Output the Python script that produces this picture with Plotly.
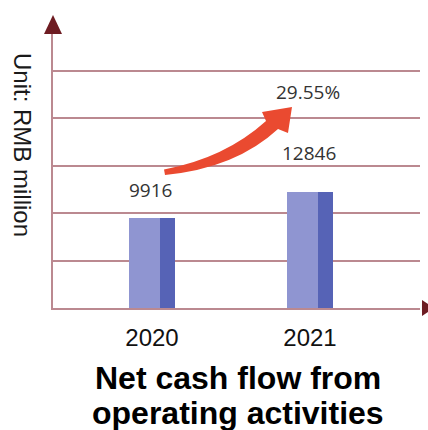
import plotly.graph_objects as go

# ---- data ----
years = ["2020", "2021"]
values = [9916, 12846]
y_title = "Unit: RMB million"
chart_title = ["Net cash flow from", "operating activities"]
growth = values[1] / values[0] - 1
growth_label = f"{growth*100:.2f}%"

# ---- geometry (pixels) ----
W, H = 428, 430
L, R, T, B = 53, 8, 33, 122
PW, PH = W - L - R, H - T - B
cat_px = 158.0            # pixels between categories
first_px = 152.0          # pixel of first category centre
x0 = -(first_px - L) / cat_px
x1 = x0 + PW / cat_px
dtick = 5250
grid_px = 47.4
ytop = PH / grid_px * dtick


def px2paper(px, py):
    return (px - L) / PW, (H - B - py) / PH


front_color = "#8f95d1"
side_color = "#5663b6"
grid_color = "#bb8990"
axis_dark = "#6e1c22"

fig = go.Figure()
fig.add_trace(go.Bar(x=years, y=values, width=0.196, offset=-0.1456,
                     marker=dict(color=front_color, line=dict(width=0)),
                     hoverinfo="x+y", showlegend=False))
fig.add_trace(go.Bar(x=years, y=values, width=0.095, offset=0.0506,
                     marker=dict(color=side_color, line=dict(width=0)),
                     hoverinfo="skip", showlegend=False))

annotations = []
label_font = dict(family="Open Sans", size=19, color="#333333")
# value labels (category index positions)
for i, (v, ys) in enumerate(zip(values, [28.5, 39])):
    annotations.append(dict(x=i, y=v, xref="x", yref="y", text=str(v),
                            showarrow=False, yshift=ys, xshift=-1.5,
                            xanchor="center", yanchor="middle", font=label_font))
annotations.append(dict(x=1, y=values[1], xref="x", yref="y", text=growth_label,
                        showarrow=False, yshift=100, xshift=-2,
                        xanchor="center", yanchor="middle", font=label_font))
# y title
ax_, ay_ = px2paper(23, 145)
annotations.append(dict(x=ax_, y=ay_, xref="paper", yref="paper", text=y_title,
                        textangle=90, showarrow=False, xanchor="center", yanchor="middle",
                        font=dict(family="Liberation Sans", size=24, color="#1a1a1a")))
# chart title lines
for line, py in zip(chart_title, [378, 413]):
    tx, ty = px2paper(238, py)
    annotations.append(dict(x=tx, y=ty, xref="paper", yref="paper", text=f"<b>{line}</b>",
                            showarrow=False, xanchor="center", yanchor="middle",
                            font=dict(family="Liberation Sans", size=32, color="#000000")))


def path(cmds):
    s = []
    for cmd, pts in cmds:
        coords = " ".join(f"{px2paper(*p)[0]:.4f},{px2paper(*p)[1]:.4f}" for p in pts)
        s.append(f"{cmd}{coords}")
    return " ".join(s) + " Z"


shapes = []
# y-axis arrowhead
shapes.append(dict(type="path", xref="paper", yref="paper",
                   path=path([("M", [(44, 34)]), ("L", [(53, 15)]), ("L", [(62, 34)])]),
                   fillcolor=axis_dark, line=dict(width=0)))
# x-axis arrowhead
shapes.append(dict(type="path", xref="paper", yref="paper",
                   path=path([("M", [(422, 300)]), ("L", [(434, 308)]), ("L", [(422, 316)])]),
                   fillcolor=axis_dark, line=dict(width=0)))
# growth arrow (decoration)
shapes.append(dict(type="path", xref="paper", yref="paper",
                   path=path([("M", [(164, 169.5)]),
                              ("Q", [(225, 158), (266, 121)]),
                              ("L", [(262, 112)]), ("L", [(292, 107)]),
                              ("L", [(288, 133)]), ("L", [(278, 129)]),
                              ("Q", [(236, 168), (165, 175)])]),
                   fillcolor="#ea4a30", line=dict(width=0)))

fig.update_layout(
    width=W, height=H,
    margin=dict(l=L, r=R, t=T, b=B),
    paper_bgcolor="white", plot_bgcolor="white",
    barmode="overlay", bargap=0,
    annotations=annotations, shapes=shapes,
    showlegend=False,
    xaxis=dict(type="category", range=[x0, x1], showgrid=False, zeroline=False,
               showline=True, linecolor=grid_color, linewidth=2,
               ticks="outside", ticklen=7, tickcolor="rgba(0,0,0,0)",
               tickfont=dict(family="Liberation Sans", size=24, color="#111111"),
               fixedrange=True),
    yaxis=dict(range=[0, ytop], dtick=dtick, tick0=0, showgrid=True,
               gridcolor=grid_color, gridwidth=2, zeroline=False,
               showline=True, linecolor=grid_color, linewidth=2,
               showticklabels=False, ticks="", fixedrange=True),
)

fig.write_html("out.html")
